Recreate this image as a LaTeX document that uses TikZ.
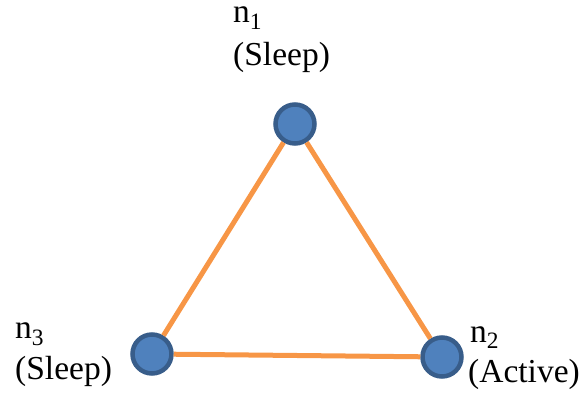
\documentclass[tikz,border=0pt]{standalone}
\usepackage{fontspec}
\setmainfont{LiberationSerif-Regular.ttf}
\definecolor{nodefill}{HTML}{4F81BD}
\definecolor{nodeborder}{HTML}{385D8A}
\definecolor{edgeorange}{HTML}{F79646}
\begin{document}
\begin{tikzpicture}[x=1pt,y=-1pt,
  vertex/.style={circle,draw=nodeborder,fill=nodefill,line width=4.5pt,minimum size=39pt,inner sep=0pt},
  link/.style={draw=edgeorange,line width=5pt},
  lbl/.style={anchor=base west,inner sep=0pt,font=\fontsize{33.5}{40}\selectfont}]
\useasboundingbox (0,0) rectangle (582,393);
\node[vertex] (n1) at (295,124) {};
\node[vertex] (n2) at (442,357) {};
\node[vertex] (n3) at (152,354) {};
\draw[link] (n1) -- (n2);
\draw[link] (n2) -- (n3);
\draw[link] (n3) -- (n1);
\node[lbl] (t1a) at (233,23) {n\textsubscript{1}};
\node[lbl] (t1b) at (233,66) {(Sleep)};
\node[lbl] (t2a) at (470,342) {n\textsubscript{2}};
\node[lbl] (t2b) at (468,382) {(Active)};
\node[lbl] (t3a) at (15,339) {n\textsubscript{3}};
\node[lbl] (t3b) at (15,380) {(Sleep)};
\end{tikzpicture}
\end{document}
